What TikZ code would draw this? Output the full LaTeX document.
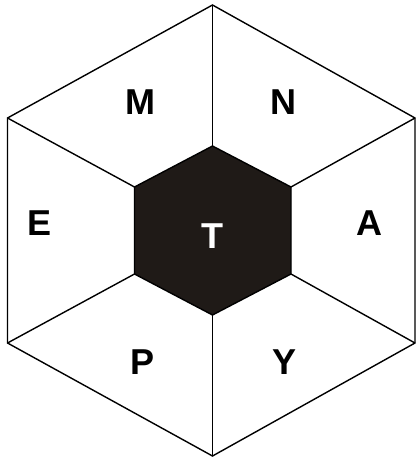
\documentclass[tikz,border=0pt]{standalone}
\usepackage{fontspec}
\setmainfont{Liberation Sans}
\definecolor{hexfill}{HTML}{1F1A17}
\begin{document}
\begin{tikzpicture}[x=1pt,y=-1pt,
  edge/.style={line width=1.4pt, line join=miter},
  lbl/.style={font=\fontsize{36}{36}\selectfont\bfseries, inner sep=0pt, text height=25.8pt, text depth=0pt, anchor=center}]
\useasboundingbox (0,0) rectangle (417,458);
% outer vertices
\coordinate (ot) at (212.5,5);
\coordinate (our) at (415,118);
\coordinate (olr) at (415,343);
\coordinate (ob) at (212.5,456);
\coordinate (oll) at (7.5,343);
\coordinate (oul) at (7.5,118);
% inner vertices
\coordinate (it) at (212.5,146);
\coordinate (iur) at (291,187);
\coordinate (ilr) at (291,274);
\coordinate (ib) at (212.5,315);
\coordinate (ill) at (134.5,274);
\coordinate (iul) at (134.5,187);
\draw[edge] (ot) -- (our) -- (olr) -- (ob) -- (oll) -- (oul) -- cycle;
\draw[edge] (ot) -- (it);
\draw[edge] (our) -- (iur);
\draw[edge] (olr) -- (ilr);
\draw[edge] (ob) -- (ib);
\draw[edge] (oll) -- (ill);
\draw[edge] (oul) -- (iul);
\filldraw[edge, fill=hexfill] (it) -- (iur) -- (ilr) -- (ib) -- (ill) -- (iul) -- cycle;
\node[lbl] (M) at (140,102) {M};
\node[lbl] (N) at (283,102) {N};
\node[lbl] (E) at (40,223) {E};
\node[lbl] (A) at (369,223) {A};
\node[lbl] (P) at (143,362) {P};
\node[lbl] (Y) at (285,362) {Y};
\node[lbl, text=white] (T) at (212.5,236) {T};
\end{tikzpicture}
\end{document}
